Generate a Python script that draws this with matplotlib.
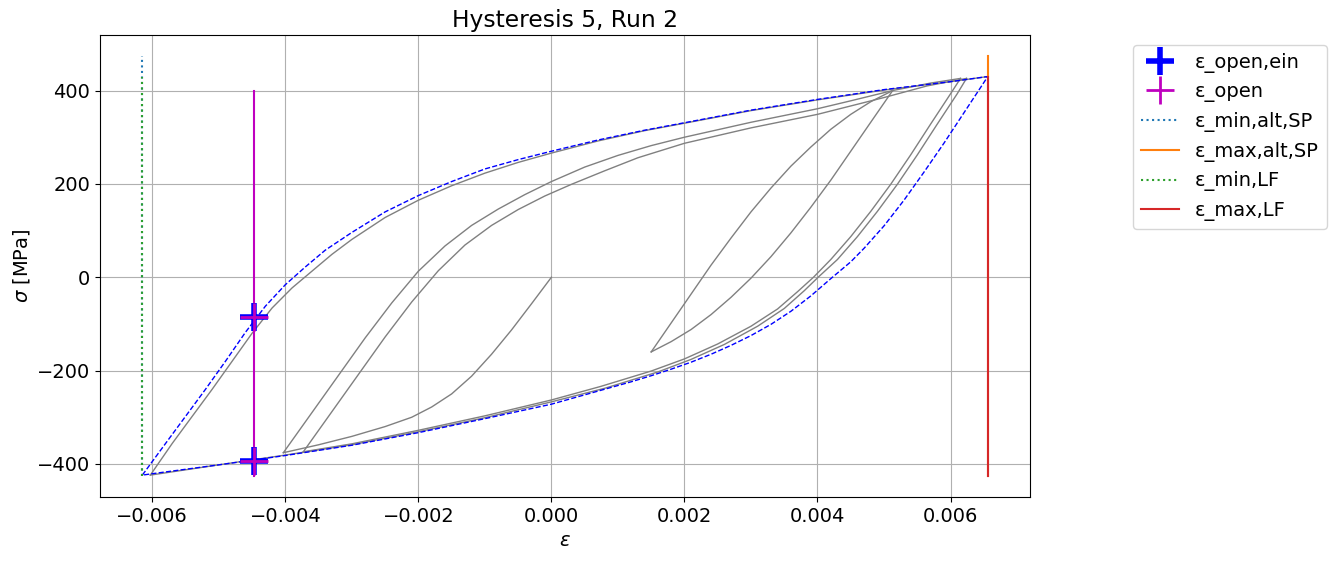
import matplotlib
matplotlib.use('Agg')
import numpy as np
import matplotlib.pyplot as plt

# gemessene Hysterese (grau), Äste in Reihenfolge des Lastpfads
initial_eps = [0.0, -0.0003, -0.0006, -0.0009, -0.0012, -0.0015, -0.0018, -0.0021, -0.0025,
               -0.003, -0.0035, -0.00403]
initial_sig = [0, -57, -113, -165, -212, -250, -278, -300, -320, -341, -359, -376]

rise1_eps = [-0.00403, -0.0036, -0.0032, -0.0028, -0.0024, -0.002, -0.0016, -0.0012, -0.0008,
             -0.0004, 0.0, 0.0005, 0.001, 0.0015, 0.002, 0.003, 0.004, 0.0045, 0.00513]
rise1_sig = [-376, -290, -210, -130, -55, 13, 67, 111, 146, 177, 205, 236, 261, 282, 300, 332,
             361, 378, 400]

small_down_eps = [0.00513, 0.0048, 0.0045, 0.0042, 0.0039, 0.0036, 0.0033, 0.003, 0.0027,
                  0.0024, 0.0021, 0.0018, 0.0015]
small_down_sig = [400, 332, 270, 208, 150, 95, 44, -2, -43, -80, -112, -138, -160]

small_up_eps = [0.0015, 0.0018, 0.0021, 0.0024, 0.0027, 0.003, 0.0033, 0.0036, 0.0039, 0.0042,
                0.0045, 0.0048, 0.00513]
small_up_sig = [-160, -98, -36, 26, 84, 140, 191, 238, 279, 317, 349, 376, 400]

top1_eps = [0.00513, 0.0057, 0.00615]
top1_sig = [400, 416, 426]

desc1_eps = [0.00615, 0.006, 0.0057, 0.0054, 0.0051, 0.0048, 0.0045, 0.0042, 0.00394, 0.0037,
             0.0034, 0.003, 0.0025, 0.002, 0.0015, 0.00074, 0.0, -0.001, -0.002, -0.003, -0.00373]
desc1_sig = [426, 393, 328, 262, 199, 141, 87, 38, 0, -31, -68, -105, -143, -175, -201, -234,
             -263, -297, -328, -357, -374]

rise2_eps = [-0.00373, -0.0033, -0.0029, -0.0025, -0.0021, -0.0017, -0.0013, -0.0009, -0.0005,
             -0.0001, 0.0003, 0.0008, 0.0013, 0.002, 0.003, 0.004, 0.005, 0.00565, 0.00624]
rise2_sig = [-374, -288, -208, -128, -53, 14, 69, 111, 145, 174, 199, 228, 256, 287, 320, 349,
             385, 410, 426]

desc2_eps = [0.00624, 0.0061, 0.0058, 0.0055, 0.0052, 0.0049, 0.0046, 0.0043, 0.00401, 0.0038,
             0.0035, 0.0031, 0.0026, 0.0021, 0.0016, 0.0008, 0.0, -0.001, -0.002, -0.003, -0.004,
             -0.005, -0.00603]
desc2_sig = [426, 393, 328, 262, 199, 141, 87, 38, 0, -29, -67, -105, -144, -176, -203, -238,
             -267, -301, -331, -359, -381, -402, -424]

final_eps = [-0.00603, -0.0057, -0.0054, -0.0051, -0.0048, -0.0045, -0.0042, -0.0039, -0.0036,
             -0.0033, -0.003, -0.0025, -0.002, -0.0015, -0.001, -0.0005, 0.0, 0.0007, 0.0014,
             0.002, 0.003, 0.004, 0.005, 0.006, 0.00656]
final_sig = [-424, -356, -298, -240, -180, -120, -66, -23, 13, 49, 81, 128, 165, 196, 223, 246,
             266, 292, 314, 330, 357, 380, 401, 419, 430]

# Hystereseschleife (blau gestrichelt)
env_up_eps = [-0.00615, -0.0058, -0.0055, -0.0052, -0.0049, -0.0046, -0.0043, -0.004, -0.0037,
              -0.0034, -0.003, -0.0025, -0.002, -0.0015, -0.001, -0.0005, 0.0, 0.0007, 0.0014,
              0.002, 0.003, 0.004, 0.005, 0.006, 0.00656]
env_up_sig = [-424, -356, -298, -240, -180, -118, -62, -16, 22, 58, 96, 140, 175, 205, 232, 252,
              270, 294, 315, 331, 358, 381, 402, 419, 430]
env_down_eps = [0.00656, 0.0062, 0.0059, 0.0056, 0.0053, 0.005, 0.0047, 0.0045, 0.0042, 0.0039,
                0.0036, 0.0033, 0.003, 0.0027, 0.0024, 0.0021, 0.0018, 0.0015, 0.0012, 0.0009,
                0.0006, 0.0003, 0.0, -0.001, -0.002, -0.003, -0.004, -0.005, -0.006, -0.00615]
env_down_sig = [430, 352, 287, 225, 165, 110, 62, 33, -3, -40, -73, -101, -125, -146, -165,
                -182, -197, -211, -224, -236, -248, -260, -272, -303, -333, -360, -382, -402,
                -421, -424]

# Kennwerte
eps_open = -0.00447
sig_open = [-86, -394]
open_line_sig = [-426, 400]
eps_min_alt_sp = -0.00615
eps_max_alt_sp = 0.00656
eps_min_lf = -0.00615
eps_max_lf = 0.00656
alt_sp_sig = [-426, 474]
lf_sig = [-426, 430]

plt.rcParams['font.size'] = 14

fig = plt.figure(figsize=(13.36, 5.61), dpi=100)
ax = fig.add_axes([0.0749, 0.114, 0.6961, 0.8236])

branches = [(initial_eps, initial_sig), (rise1_eps, rise1_sig), (small_down_eps, small_down_sig),
            (small_up_eps, small_up_sig), (top1_eps, top1_sig), (desc1_eps, desc1_sig),
            (rise2_eps, rise2_sig), (desc2_eps, desc2_sig), (final_eps, final_sig)]
for e, s in branches:
    ax.plot(e, s, color='gray', lw=1)

ax.plot(env_up_eps + env_down_eps, env_up_sig + env_down_sig, color='blue', ls='--', lw=1)

ax.plot([eps_open, eps_open], open_line_sig, color='m', lw=1.5)
ax.plot([eps_open] * 2, sig_open, '+', color='blue', ms=20, mew=4, ls='none', label='ε_open,ein')
ax.plot([eps_open] * 2, sig_open, '+', color='m', ms=20, mew=2, ls='none', label='ε_open')

ax.plot([eps_min_alt_sp] * 2, alt_sp_sig, ':', color='tab:blue', lw=1.5, label='ε_min,alt,SP')
ax.plot([eps_max_alt_sp] * 2, alt_sp_sig, '-', color='tab:orange', lw=1.5, label='ε_max,alt,SP')
ax.plot([eps_min_lf] * 2, lf_sig, ':', color='tab:green', lw=1.5, label='ε_min,LF')
ax.plot([eps_max_lf] * 2, lf_sig, '-', color='tab:red', lw=1.5, label='ε_max,LF')

ax.set_title('Hysteresis 5, Run 2', fontsize=16.8)
ax.set_xlabel(r'$\varepsilon$')
ax.set_ylabel(r'$\sigma$ [MPa]')
ax.grid(True)
ax.legend(loc='upper left', bbox_to_anchor=(1.1, 1))

fig.savefig('out.png', dpi=100)
